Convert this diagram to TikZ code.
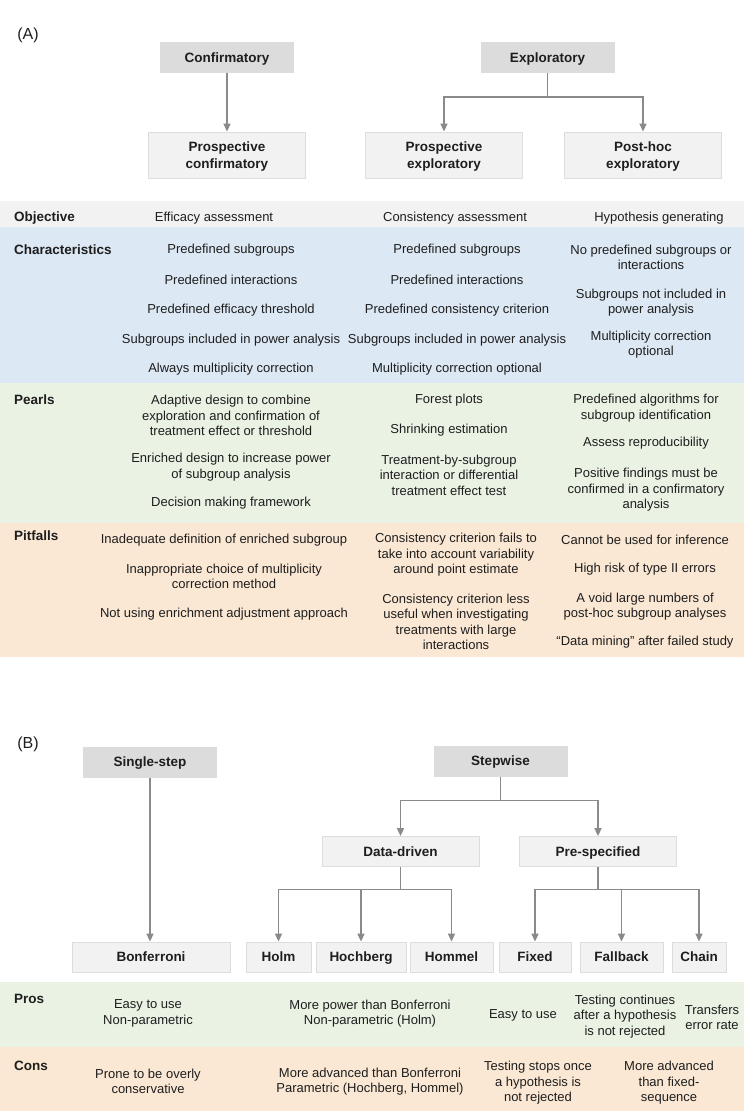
\documentclass[tikz,border=0pt]{standalone}
\usepackage{fontspec}
\setmainfont{Liberation Sans}
\usepackage{tikz}
\usetikzlibrary{arrows.meta,positioning}
\definecolor{ink}{HTML}{1E1E1E}
\definecolor{arrowgray}{HTML}{8A8A8A}
\definecolor{boxdark}{HTML}{DCDCDC}
\definecolor{boxlight}{HTML}{F2F2F2}
\definecolor{boxline}{HTML}{DDDDDD}
\definecolor{rowgray}{HTML}{F2F2F2}
\definecolor{rowblue}{HTML}{DCE8F4}
\definecolor{rowgreen}{HTML}{EAF2E4}
\definecolor{roworange}{HTML}{FAE8D4}
\tikzset{
  >={Triangle[length=8pt,width=7pt]},
  flow/.style={->,line width=1.5pt,draw=arrowgray},
  topbox/.style={fill=boxdark,text=ink,minimum width=134pt,minimum height=31pt,inner sep=0pt,
    text height=11pt,text depth=1.5pt,font=\bfseries\fontsize{13.5}{17}\selectfont},
  subbox/.style={fill=boxlight,draw=boxline,line width=0.8pt,text=ink,align=center,inner sep=0pt,
    minimum width=157pt,minimum height=30pt,font=\bfseries\fontsize{13.5}{17}\selectfont},
  onebox/.style={subbox,text height=11pt,text depth=1.5pt},
  twobox/.style={subbox,minimum height=46pt,text height=28.1pt,text depth=1.4pt},
  rowlabel/.style={anchor=west,text=ink,inner sep=0pt,yshift=-2pt,font=\bfseries\fontsize{13.5}{17}\selectfont},
  cell/.style={align=center,text=ink,inner sep=0pt,yshift=-2pt,font=\fontsize{13}{15.5}\selectfont},
  panel/.style={text=ink,inner sep=0pt,yshift=-2pt,font=\fontsize{16}{19}\selectfont}
}
\begin{document}
\begin{tikzpicture}[x=1pt,y=-1pt]
  \useasboundingbox (0,0) rectangle (746,1111);
  \node[panel] (labA) at (28,33) {(A)};
  \node[topbox] (conf) at (227,57.5) {Confirmatory};
  \node[topbox] (expl) at (547.5,57.5) {Exploratory};
  \node[twobox] (pconf) at (227,155) {Prospective\\confirmatory};
  \node[twobox] (pexpl) at (444,155) {Prospective\\exploratory};
  \node[twobox] (phoc) at (643,155) {Post-hoc\\exploratory};
  \draw[flow] (conf) -- (pconf);
  \draw[flow] (expl.south) -- ++(0,24) -| (pexpl.north); \draw[flow] (expl.south) -- ++(0,24) -| (phoc.north);

  \fill[rowgray] (0,201) rectangle (744,227);
  \fill[rowblue] (0,227) rectangle (744,383);
  \fill[rowgreen] (0,383) rectangle (744,523);
  \fill[roworange] (0,523) rectangle (744,657);

  \node[rowlabel] (lobj) at (14,216) {Objective};
  \node[cell] (obj1) at (214,216) {Efficacy assessment};
  \node[cell] (obj2) at (455,216) {Consistency assessment};
  \node[cell] (obj3) at (659,216) {Hypothesis generating};

  \node[rowlabel] (lchar) at (14,248) {Characteristics};
  \node[cell] (ch1a) at (231,248) {Predefined subgroups};
  \node[cell] (ch1b) at (231,278) {Predefined interactions};
  \node[cell] (ch1c) at (231,308) {Predefined efficacy threshold};
  \node[cell] (ch1d) at (231,338) {Subgroups included in power analysis};
  \node[cell] (ch1e) at (231,367) {Always multiplicity correction};
  \node[cell] (ch2a) at (457,248) {Predefined subgroups};
  \node[cell] (ch2b) at (457,278) {Predefined interactions};
  \node[cell] (ch2c) at (457,308) {Predefined consistency criterion};
  \node[cell] (ch2d) at (457,338) {Subgroups included in power analysis};
  \node[cell] (ch2e) at (457,367) {Multiplicity correction optional};
  \node[cell] (ch3a) at (651,255.5) {No predefined subgroups or\\interactions};
  \node[cell] (ch3b) at (651,300.5) {Subgroups not included in\\power analysis};
  \node[cell] (ch3c) at (651,342.5) {Multiplicity correction\\optional};

  \node[rowlabel] (lpearl) at (14,398) {Pearls};
  \node[cell] (pe1a) at (231,413.5) {Adaptive design to combine\\exploration and confirmation of\\treatment effect or threshold};
  \node[cell] (pe1b) at (231,465) {Enriched design to increase power\\of subgroup analysis};
  \node[cell] (pe1c) at (231,501) {Decision making framework};
  \node[cell] (pe2a) at (449,398) {Forest plots};
  \node[cell] (pe2b) at (449,428) {Shrinking estimation};
  \node[cell] (pe2c) at (449,473) {Treatment-by-subgroup\\interaction or differential\\treatment effect test};
  \node[cell] (pe3a) at (646,406) {Predefined algorithms for\\subgroup identification};
  \node[cell] (pe3b) at (646,441) {Assess reproducibility};
  \node[cell] (pe3c) at (646,488) {Positive findings must be\\confirmed in a confirmatory\\analysis};

  \node[rowlabel] (lpit) at (14,534) {Pitfalls};
  \node[cell] (pi1a) at (224,538) {Inadequate definition of enriched subgroup};
  \node[cell] (pi1b) at (224,574.5) {Inappropriate choice of multiplicity\\correction method};
  \node[cell] (pi1c) at (224,612) {Not using enrichment adjustment approach};
  \node[cell] (pi2a) at (456,553) {Consistency criterion fails to\\take into account variability\\around point estimate};
  \node[cell] (pi2b) at (456,620) {Consistency criterion less\\useful when investigating\\treatments with large\\interactions};
  \node[cell] (pi3a) at (645,538) {Cannot be used for inference};
  \node[cell] (pi3b) at (645,567) {High risk of type II errors};
  \node[cell] (pi3c) at (645,604.5) {A void large numbers of\\post-hoc subgroup analyses};
  \node[cell] (pi3d) at (645,640) {“Data mining” after failed study};

  \node[panel] (labB) at (28,742) {(B)};
  \node[topbox] (single) at (150,762) {Single-step};
  \node[topbox] (stepwise) at (500.5,761) {Stepwise};
  \node[onebox] (ddriven) at (400.5,851.5) {Data-driven};
  \node[onebox] (prespec) at (598,851.5) {Pre-specified};
  \node[onebox,minimum width=158pt] (bonf) at (151,957) {Bonferroni};
  \node[onebox,minimum width=65pt] (holm) at (278.5,957) {Holm};
  \node[onebox,minimum width=90pt] (hoch) at (361,957) {Hochberg};
  \node[onebox,minimum width=83pt] (hommel) at (451.5,957) {Hommel};
  \node[onebox,minimum width=72pt] (fixed) at (535,957) {Fixed};
  \node[onebox,minimum width=83pt] (fallback) at (621.5,957) {Fallback};
  \node[onebox,minimum width=54pt] (chain) at (699,957) {Chain};
  \draw[flow] (single.south) -- (single.south |- bonf.north);
  \draw[flow] (stepwise.south) -- ++(0,24) -| (ddriven.north); \draw[flow] (stepwise.south) -- ++(0,24) -| (prespec.north);
  \draw[flow] (ddriven.south) -- ++(0,22.5) -| (holm.north); \draw[flow] (ddriven.south) -- ++(0,22.5) -| (hoch.north);
  \draw[flow] (ddriven.south) -- ++(0,22.5) -| (hommel.north);
  \draw[flow] (prespec.south) -- ++(0,22.5) -| (fixed.north); \draw[flow] (prespec.south) -- ++(0,22.5) -| (fallback.north);
  \draw[flow] (prespec.south) -- ++(0,22.5) -| (chain.north);

  \fill[rowgreen] (0,982) rectangle (744,1047);
  \fill[roworange] (0,1047) rectangle (744,1111);
  \node[rowlabel] (lpros) at (14,997) {Pros};
  \node[cell] (pr1) at (148,1011.5) {Easy to use\\Non-parametric};
  \node[cell] (pr2) at (370,1011.5) {More power than Bonferroni\\Non-parametric (Holm)};
  \node[cell] (pr3) at (523,1013) {Easy to use};
  \node[cell] (pr4) at (625,1014.5) {Testing continues\\after a hypothesis\\is not rejected};
  \node[cell] (pr5) at (712,1015.5) {Transfers\\error rate};
  \node[rowlabel] (lcons) at (14,1064) {Cons};
  \node[cell] (co1) at (148,1079.5) {Prone to be overly\\conservative};
  \node[cell] (co2) at (370,1079.5) {More advanced than Bonferroni\\Parametric (Hochberg, Hommel)};
  \node[cell] (co3) at (538,1081) {Testing stops once\\a hypothesis is\\not rejected};
  \node[cell] (co4) at (669,1081) {More advanced\\than fixed-\\sequence};
\end{tikzpicture}
\end{document}
